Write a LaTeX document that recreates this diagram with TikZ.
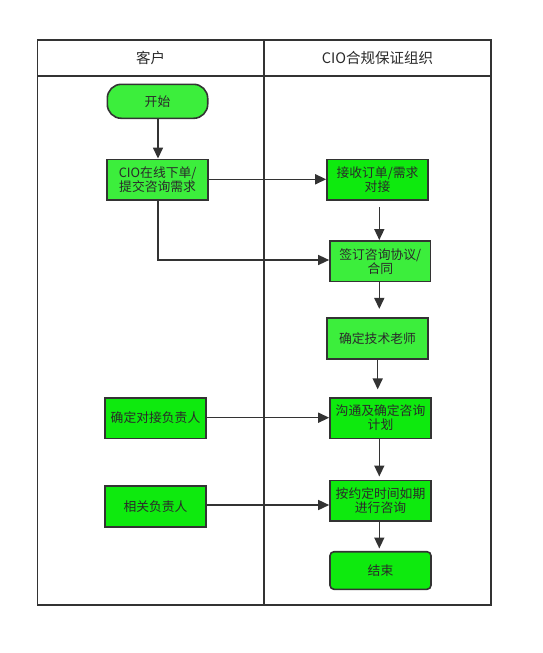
\documentclass[tikz,border=0pt]{standalone}
\usepackage{fontspec}
\setmainfont{Noto Sans CJK SC}
\usetikzlibrary{arrows.meta}
\definecolor{lineg}{HTML}{333333}
\definecolor{txtg}{HTML}{2A2A2A}
\definecolor{gA}{HTML}{3CEE3C}
\definecolor{gB}{HTML}{0EEA0E}
\tikzset{
  box/.style={draw=lineg, line width=1.6pt, text=txtg, font=\fontsize{12.8}{14}\selectfont, align=center, inner sep=0pt},
  conn/.style={draw=lineg, line width=1.5pt, -{Triangle[length=11pt,width=10pt]}},
  frame/.style={draw=lineg, line width=1.5pt}
}
\begin{document}
\begin{tikzpicture}[x=1pt,y=-1pt]
\useasboundingbox (0,0) rectangle (542,653);
\fill[white] (0,0) rectangle (542,653);
% frame
\draw[frame] (37.3,40) rectangle (491,605);
\draw[frame] (37.3,76) -- (491,76);
\draw[frame] (264,40) -- (264,605);
\node[text=txtg, font=\fontsize{14.5}{16}\selectfont] (h1) at (150.6,58) {客户};
\node[text=txtg, font=\fontsize{14.5}{16}\selectfont] (h2) at (377.5,58) {CIO合规保证组织};
% nodes
\node[box, fill=gA, rounded corners=14pt, minimum width=100.4pt, minimum height=34pt] (start) at (157.5,101.3) {开始};
\node[box, fill=gA, minimum width=100.7pt, minimum height=40.7pt] (cio) at (157.6,179.7) {CIO在线下单/\\提交咨询需求};
\node[box, fill=gB, minimum width=101pt, minimum height=40.7pt] (recv) at (377.5,179.7) {接收订单/需求\\对接};
\node[box, fill=gA, minimum width=100.7pt, minimum height=40.7pt] (sign) at (380.3,261.2) {签订咨询协议/\\合同};
\node[box, fill=gA, minimum width=101pt, minimum height=41pt] (tech) at (377.5,338.2) {确定技术老师};
\node[box, fill=gB, minimum width=101pt, minimum height=40.6pt] (comm) at (380.5,418) {沟通及确定咨询\\计划};
\node[box, fill=gB, minimum width=101pt, minimum height=40.6pt] (conf) at (155.5,418) {确定对接负责人};
\node[box, fill=gB, minimum width=101pt, minimum height=40.4pt] (exec) at (380.5,500.5) {按约定时间如期\\进行咨询};
\node[box, fill=gB, minimum width=101pt, minimum height=41pt] (rel) at (155.5,506.2) {相关负责人};
\node[box, fill=gB, rounded corners=4pt, minimum width=101pt, minimum height=37.6pt] (end) at (380.5,570.5) {结束};
% connectors
\draw[conn] (start.south -| 158,0) -- (cio.north -| 158,0);
\draw[conn] (cio.east |- 0,179.3) -- (recv.west |- 0,179.3);
\draw[conn] ([yshift=-6.5pt]recv.south -| 379.3,0) -- (sign.north -| 379.3,0);
\draw[conn] (cio.south -| 158,0) -- (158,260) -- (sign.west |- 0,260);
\draw[conn] (sign.south -| 379.3,0) -- ([yshift=8pt]tech.north -| 379.3,0);
\draw[conn] (tech.south -| 377.7,0) -- ([yshift=7.5pt]comm.north -| 377.7,0);
\draw[conn] (conf.east |- 0,417.7) -- (comm.west |- 0,417.7);
\draw[conn] (comm.south -| 379.3,0) -- ([yshift=3pt]exec.north -| 379.3,0);
\draw[conn] (rel.east |- 0,505) -- (exec.west |- 0,505);
\draw[conn] (exec.south -| 379.3,0) -- ([yshift=2.4pt]end.north -| 379.3,0);
\end{tikzpicture}
\end{document}
